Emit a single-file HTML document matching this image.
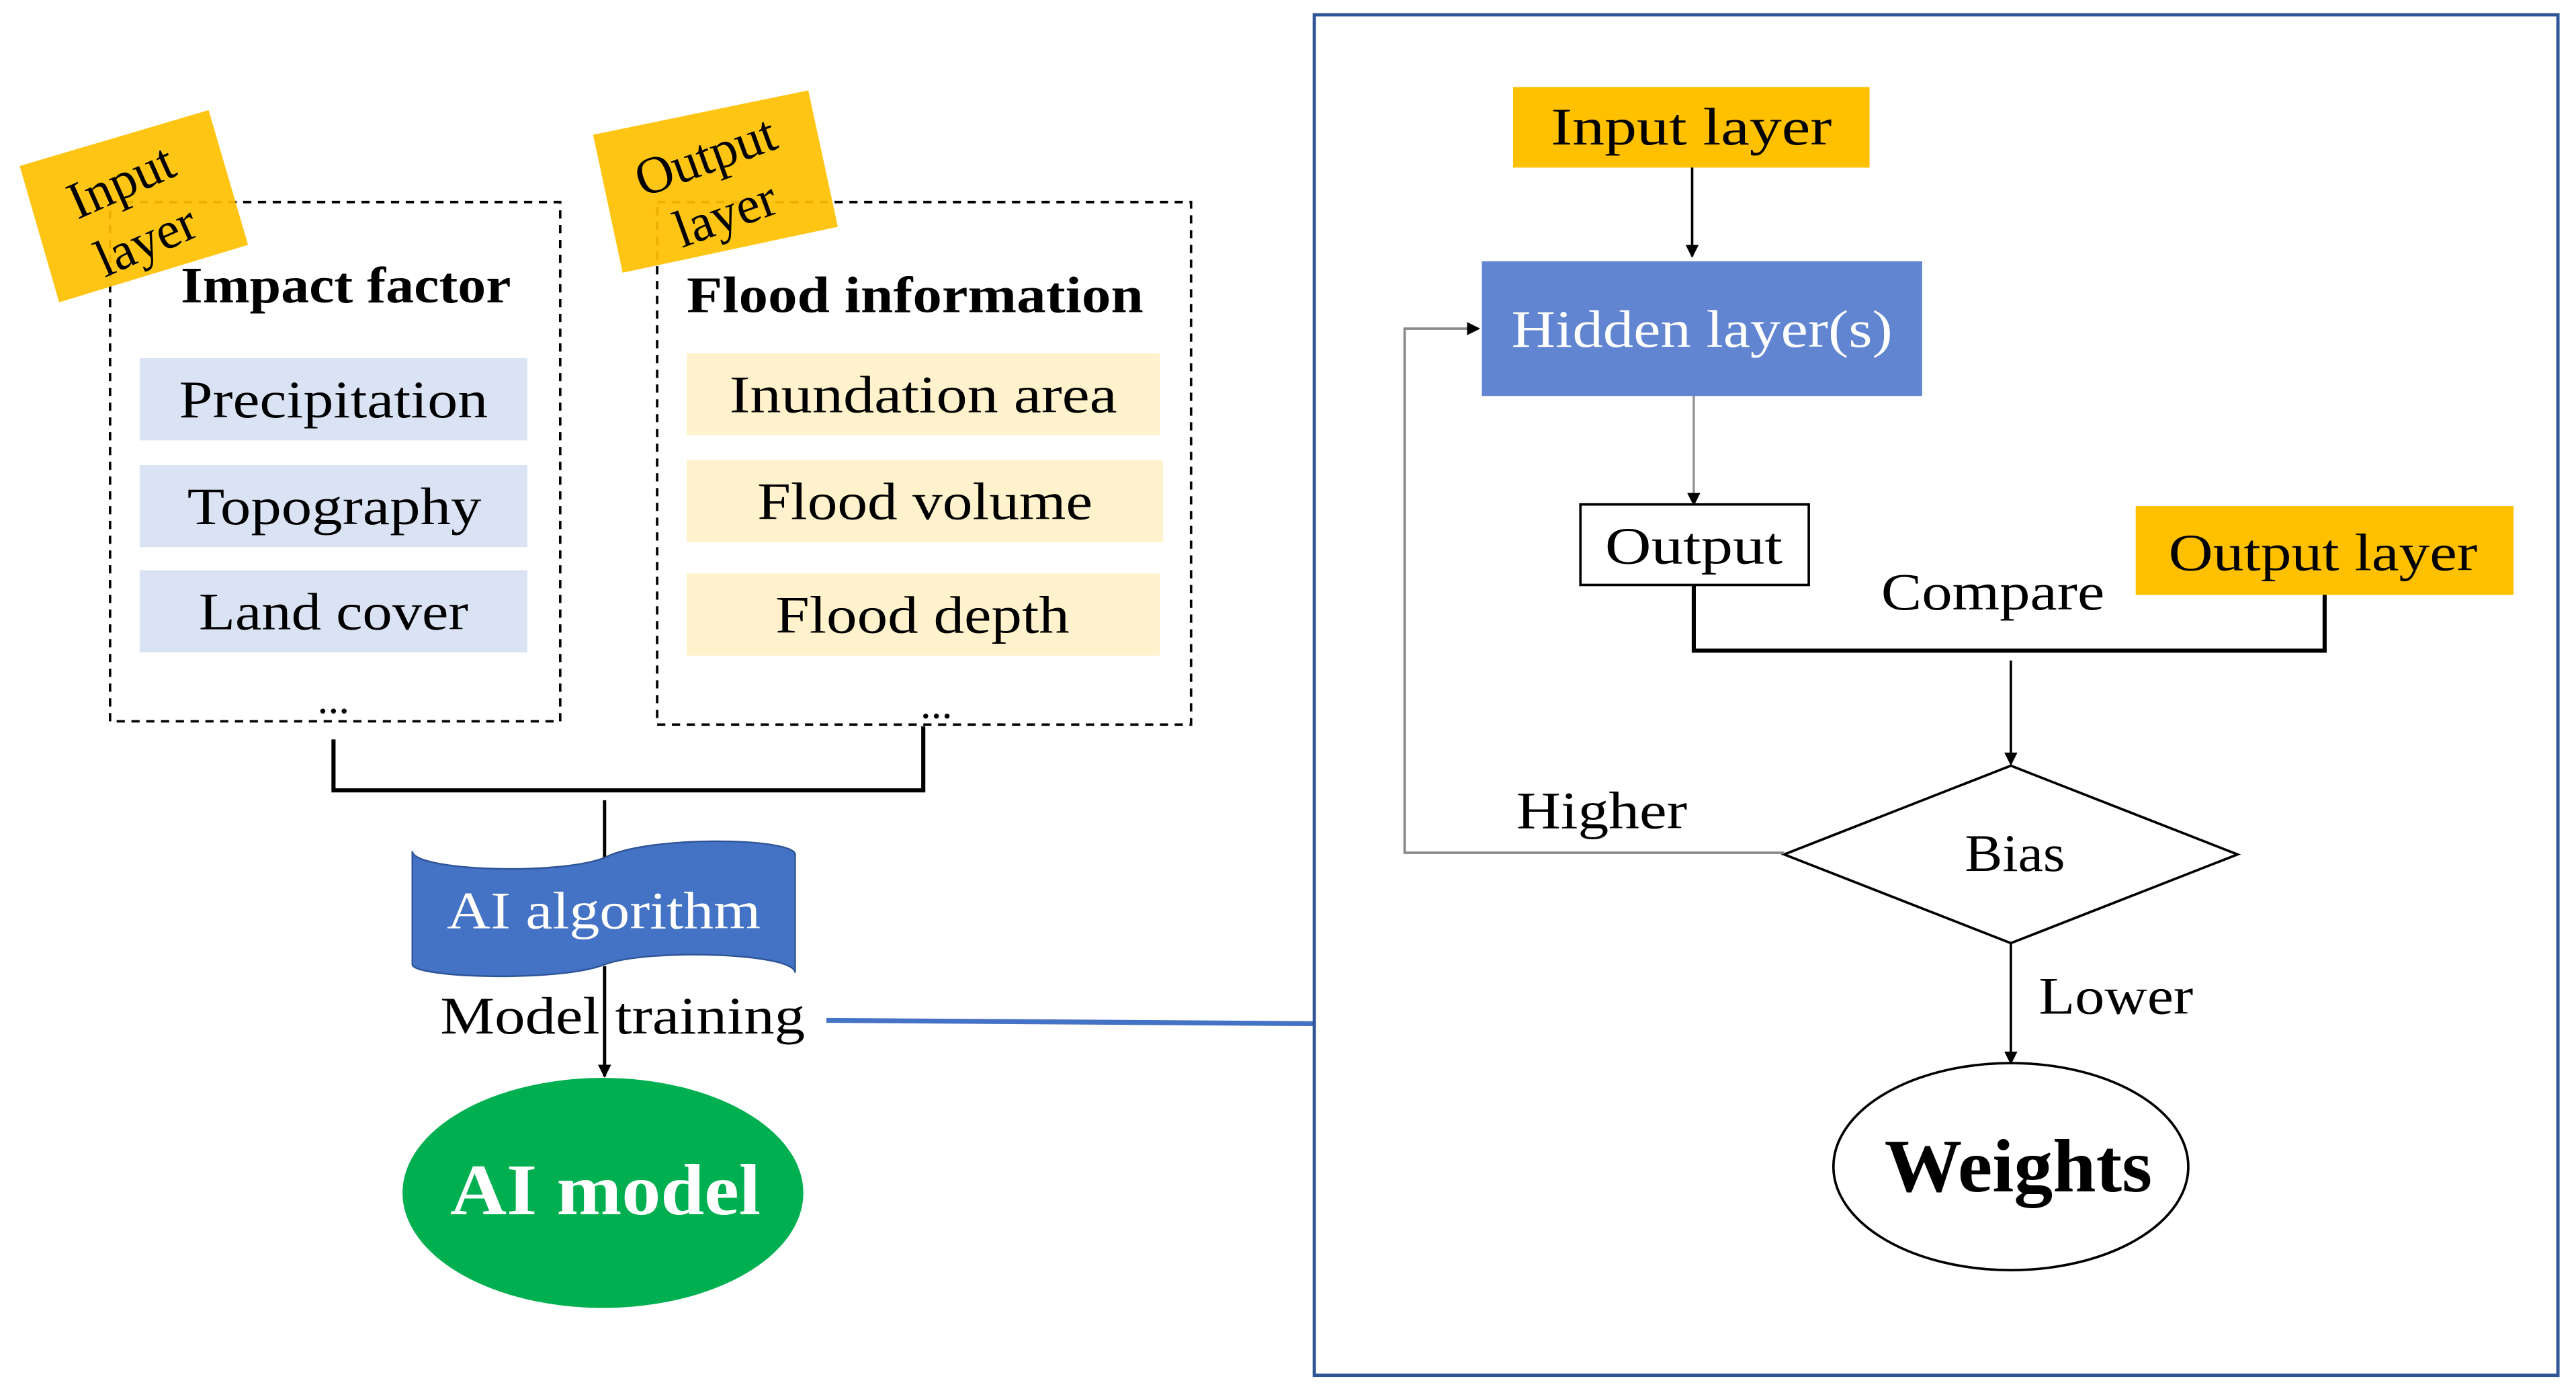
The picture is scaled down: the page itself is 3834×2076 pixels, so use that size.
<!DOCTYPE html>
<html><head><meta charset="utf-8"><style>
html,body{margin:0;padding:0;background:#fff;}
svg{display:block;}
text{font-family:"Liberation Serif",serif;}
</style></head><body>
<svg width="3834" height="2076" viewBox="0 0 1568 849" preserveAspectRatio="none" xmlns="http://www.w3.org/2000/svg">
<defs>
<marker id="ah" markerWidth="8" markerHeight="8" refX="7" refY="4" orient="auto" markerUnits="userSpaceOnUse"><path d="M0,0 L8,4 L0,8 Z" fill="#000"/></marker>
</defs>
<rect x="0" y="0" width="1568" height="849" fill="#fff"/>

<rect x="67" y="123" width="274" height="316" fill="none" stroke="#000" stroke-width="1.5" stroke-dasharray="5,4"/>
<rect x="400" y="123" width="325" height="318" fill="none" stroke="#000" stroke-width="1.5" stroke-dasharray="5,4"/>

<text x="110" y="184" font-size="31" font-weight="bold" textLength="201" lengthAdjust="spacingAndGlyphs">Impact factor</text>
<rect x="85" y="218" width="236" height="50" fill="#dae3f3"/>
<rect x="85" y="283" width="236" height="50" fill="#dae3f3"/>
<rect x="85" y="347" width="236" height="50" fill="#dae3f3"/>
<text x="109" y="254" font-size="32" textLength="188" lengthAdjust="spacingAndGlyphs">Precipitation</text>
<text x="114" y="319" font-size="32" textLength="179" lengthAdjust="spacingAndGlyphs">Topography</text>
<text x="121" y="383" font-size="32" textLength="164" lengthAdjust="spacingAndGlyphs">Land cover</text>
<text x="203" y="434" font-size="26" text-anchor="middle">...</text>

<text x="418" y="190" font-size="31" font-weight="bold" textLength="278" lengthAdjust="spacingAndGlyphs">Flood information</text>
<rect x="418" y="215" width="288" height="50" fill="#fff2cc"/>
<rect x="418" y="280" width="290" height="50" fill="#fff2cc"/>
<rect x="418" y="349" width="288" height="50" fill="#fff2cc"/>
<text x="444" y="251" font-size="32" textLength="236" lengthAdjust="spacingAndGlyphs">Inundation area</text>
<text x="461" y="316" font-size="32" textLength="204" lengthAdjust="spacingAndGlyphs">Flood volume</text>
<text x="472" y="385" font-size="32" textLength="179" lengthAdjust="spacingAndGlyphs">Flood depth</text>
<text x="570" y="437" font-size="26" text-anchor="middle">...</text>

<polygon points="12,101 127,67 151,149 36,184" fill="#ffc000" fill-opacity="0.92"/>
<text transform="translate(78,120) rotate(-24)" font-size="32" text-anchor="middle">Input</text>
<text transform="translate(93,156) rotate(-24)" font-size="32" text-anchor="middle">layer</text>
<polygon points="361,82 492,55 510,138 379,166" fill="#ffc000" fill-opacity="0.92"/>
<text transform="translate(433,105) rotate(-20)" font-size="32" text-anchor="middle">Output</text>
<text transform="translate(445,140) rotate(-20)" font-size="32" text-anchor="middle">layer</text>

<path d="M203,450 L203,481 L562,481 L562,442" fill="none" stroke="#000" stroke-width="2.5"/>
<line x1="368" y1="487" x2="368" y2="522" stroke="#000" stroke-width="2"/>

<path d="M251,518 C251,530 340,533 368,522 C395,508 484,510 484,520 L484,592 C484,580 395,577 368,587 C340,598 251,595 251,587 Z" fill="#4472c4" stroke="#2f5597" stroke-width="1"/>
<text x="272" y="565" font-size="32" fill="#fff" textLength="191" lengthAdjust="spacingAndGlyphs">AI algorithm</text>
<line x1="368" y1="588" x2="368" y2="655" stroke="#000" stroke-width="2" marker-end="url(#ah)"/>
<text x="268" y="629" font-size="32" textLength="222" lengthAdjust="spacingAndGlyphs">Model training</text>

<ellipse cx="367" cy="726" rx="122" ry="70" fill="#00b050"/>
<text x="274" y="739" font-size="44" font-weight="bold" fill="#fff" textLength="189" lengthAdjust="spacingAndGlyphs">AI model</text>

<line x1="503" y1="621" x2="800" y2="623" stroke="#4472c4" stroke-width="3"/>

<rect x="800" y="9" width="757" height="828" fill="none" stroke="#2f5597" stroke-width="2"/>

<rect x="921" y="53" width="217" height="49" fill="#ffc000"/>
<text x="944" y="88" font-size="32" textLength="171" lengthAdjust="spacingAndGlyphs">Input  layer</text>
<line x1="1030" y1="102" x2="1030" y2="156" stroke="#000" stroke-width="1.5" marker-end="url(#ah)"/>

<rect x="902" y="159" width="268" height="82" fill="#6185d0"/>
<text x="920" y="211" font-size="32" fill="#fff" textLength="232" lengthAdjust="spacingAndGlyphs">Hidden layer(s)</text>
<line x1="1031" y1="241" x2="1031" y2="307" stroke="#999" stroke-width="1.5" marker-end="url(#ah)"/>

<rect x="962" y="307" width="139" height="49" fill="#fff" stroke="#000" stroke-width="1.5"/>
<text x="977" y="343" font-size="32" textLength="108" lengthAdjust="spacingAndGlyphs">Output</text>
<rect x="1300" y="308" width="230" height="54" fill="#ffc000"/>
<text x="1320" y="347" font-size="32" textLength="188" lengthAdjust="spacingAndGlyphs">Output layer</text>
<text x="1145" y="371" font-size="32" textLength="136" lengthAdjust="spacingAndGlyphs">Compare</text>
<path d="M1031,356 L1031,396 L1415,396 L1415,362" fill="none" stroke="#000" stroke-width="2.5"/>
<line x1="1224" y1="402" x2="1224" y2="465" stroke="#000" stroke-width="1.5" marker-end="url(#ah)"/>

<polygon points="1224,466 1362,520 1224,574 1086,520" fill="#fff" stroke="#000" stroke-width="1.5"/>
<text x="1196" y="530" font-size="32" textLength="61" lengthAdjust="spacingAndGlyphs">Bias</text>

<path d="M1086,519 L855,519 L855,200 L900,200" fill="none" stroke="#888" stroke-width="1.5" marker-end="url(#ah)"/>
<text x="923" y="504" font-size="32" textLength="104" lengthAdjust="spacingAndGlyphs">Higher</text>

<line x1="1224" y1="574" x2="1224" y2="647" stroke="#000" stroke-width="1.5" marker-end="url(#ah)"/>
<text x="1241" y="617" font-size="32" textLength="94" lengthAdjust="spacingAndGlyphs">Lower</text>

<ellipse cx="1224" cy="710" rx="108" ry="63" fill="#fff" stroke="#000" stroke-width="1.5"/>
<text x="1147" y="725" font-size="46" font-weight="bold" textLength="163" lengthAdjust="spacingAndGlyphs">Weights</text>
</svg>
</body></html>
